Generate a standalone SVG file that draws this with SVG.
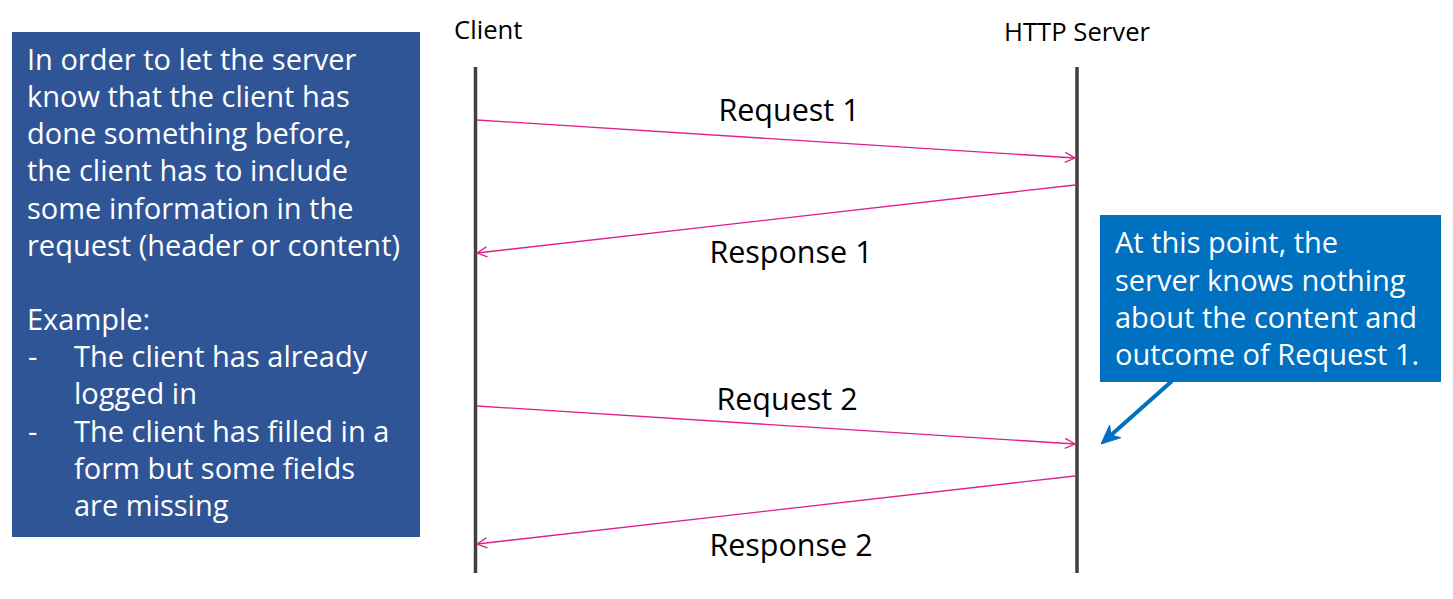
<svg xmlns="http://www.w3.org/2000/svg" width="1453" height="599" viewBox="0 0 1453 599">
<style>
.t{font-family:"Open Sans","Noto Sans","Liberation Sans",sans-serif;}
.w{fill:#ffffff;font-size:29px;}
.lbl{fill:#000000;font-size:30.5px;text-anchor:middle;}
.hdr{fill:#000000;font-size:25.7px;}
.life{stroke:#404040;stroke-width:3.5;fill:none;}
.msg{stroke:#E0208C;stroke-width:1.3;fill:none;marker-end:url(#open);}
</style>
<defs>
<marker id="open" viewBox="0 0 12 12" refX="11" refY="6" markerWidth="12" markerHeight="12" markerUnits="userSpaceOnUse" orient="auto">
<path d="M1,1 L11,6 L1,11" fill="none" stroke="#E0208C" stroke-width="1.3"/>
</marker>
</defs>
<rect width="1453" height="599" fill="#ffffff"/>
<g id="note-left">
<rect x="12" y="32" width="408" height="505" fill="#2F5597"/>
<text class="t w" x="27" y="70">In order to let the server</text>
<text class="t w" x="27" y="107">know that the client has</text>
<text class="t w" x="27" y="144">done something before,</text>
<text class="t w" x="27" y="181">the client has to include</text>
<text class="t w" x="27" y="219">some information in the</text>
<text class="t w" x="27" y="256">request (header or content)</text>
<text class="t w" x="27" y="330">Example:</text>
<text class="t w" x="28" y="367">-</text>
<text class="t w" x="74" y="367">The client has already</text>
<text class="t w" x="74" y="404">logged in</text>
<text class="t w" x="28" y="442">-</text>
<text class="t w" x="74" y="442">The client has filled in a</text>
<text class="t w" x="74" y="479">form but some fields</text>
<text class="t w" x="74" y="516">are missing</text>
</g>
<g id="client">
<text class="t hdr" x="454" y="39">Client</text>
<line class="life" x1="475.5" y1="67" x2="475.5" y2="573"/>
</g>
<g id="server">
<text class="t hdr" x="1004" y="41">HTTP Server</text>
<line class="life" x1="1077" y1="67" x2="1077" y2="573"/>
</g>
<g id="connectors">
<line class="msg" x1="477" y1="120" x2="1075" y2="158"/>
<line class="msg" x1="1075" y1="185" x2="477" y2="253"/>
<line class="msg" x1="477" y1="406" x2="1075" y2="444"/>
<line class="msg" x1="1075" y1="476" x2="477" y2="544"/>
<text class="t lbl" x="789" y="121">Request 1</text>
<text class="t lbl" x="791" y="263">Response 1</text>
<text class="t lbl" x="787" y="410">Request 2</text>
<text class="t lbl" x="791" y="556">Response 2</text>
</g>
<g id="callout">
<rect x="1100" y="215" width="341" height="167" fill="#0070C0"/>
<text class="t w" x="1115" y="253">At this point, the</text>
<text class="t w" x="1115" y="291">server knows nothing</text>
<text class="t w" x="1115" y="328">about the content and</text>
<text class="t w" x="1115" y="365">outcome of Request 1.</text>
<line x1="1172" y1="381" x2="1110" y2="436" stroke="#0070C0" stroke-width="4"/>
<polygon points="1101,444 1109.6,425.1 1111,435 1120.8,437.7" fill="#0070C0" stroke="#0070C0" stroke-width="1" stroke-linejoin="miter"/>
</g>
</svg>
